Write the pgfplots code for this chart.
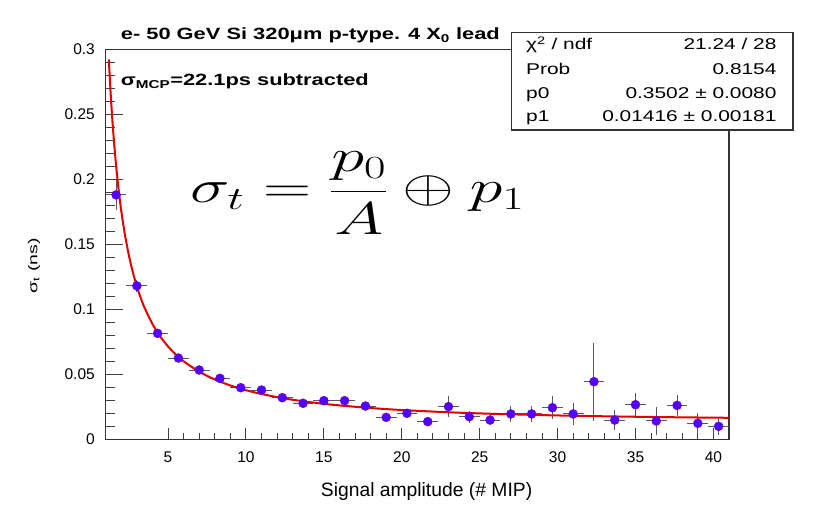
\documentclass[border=0pt]{standalone}
\usepackage{fix-cm}
\usepackage[no-math]{fontspec}
\setmainfont{Liberation Sans}
\newfontfamily\widefont[FakeStretch=1.34]{Liberation Sans}
\usepackage{graphicx}
\usepackage{pgfplots}
\pgfplotsset{compat=1.18}
\usepackage{pgfplotstable}
\definecolor{markerblue}{RGB}{85,0,245}
\definecolor{fitred}{RGB}{225,0,0}

\pgfplotstableread{
x y ex ey
1.667 0.188 0.667 0.0115
3.000 0.118 0.667 0.0045
4.333 0.0815 0.667 0.003
5.667 0.0625 0.667 0.002
7.000 0.0533 0.667 0.002
8.333 0.0469 0.667 0.002
9.667 0.0397 0.667 0.002
11.000 0.0379 0.667 0.002
12.333 0.0320 0.667 0.002
13.667 0.0277 0.667 0.002
15.000 0.0297 0.667 0.003
16.333 0.0297 0.667 0.003
17.667 0.0256 0.667 0.003
19.000 0.0169 0.667 0.003
20.333 0.0200 0.667 0.003
21.667 0.0136 0.667 0.002
23.000 0.0251 0.667 0.008
24.333 0.0174 0.667 0.0045
25.667 0.0148 0.667 0.004
27.000 0.0195 0.667 0.006
28.333 0.0195 0.667 0.006
29.667 0.0243 0.667 0.0087
31.000 0.0195 0.667 0.0083
32.333 0.0443 0.667 0.030
33.667 0.0148 0.667 0.0077
35.000 0.0266 0.667 0.0087
36.333 0.0141 0.667 0.0106
37.667 0.0261 0.667 0.0083
39.000 0.0123 0.667 0.0077
40.333 0.0100 0.667 0.0064
}\data

\pgfplotstableread{
x y
1.2 0.29217
1.3 0.26975
1.4 0.25054
1.5 0.23390
1.6 0.21933
1.7 0.20649
1.8 0.19507
1.9 0.18486
2.0 0.17567
2.1 0.16736
2.25 0.15629
2.5 0.14079
2.75 0.12813
3.0 0.11759
3.25 0.10868
3.5 0.10106
4.0 0.08869
4.5 0.07910
5.0 0.07146
5.5 0.06523
6.0 0.06006
7.0 0.05199
8.0 0.04601
9.0 0.04140
10.0 0.03777
11.0 0.03484
12.0 0.03244
13.0 0.03043
14.0 0.02874
15.0 0.02731
16.0 0.02607
18.0 0.02406
20.0 0.02252
23.0 0.02079
26.0 0.01954
30.0 0.01835
34.0 0.01751
38.0 0.01689
41.0 0.01654
}\fit

\begin{document}
\begin{tikzpicture}
\useasboundingbox (-105.7pt,-77.7pt) rectangle (716.3pt,439.3pt);
\pgfplotsset{rootaxis/.style={
  scale only axis, width=623.3pt, height=390pt,
  xmin=1, xmax=41, ymin=0, ymax=0.3,
  at={(0pt,0pt)}, anchor=south west,
  axis line style={line width=1.1pt, black!80},
  tick align=inside, xtick pos=left, ytick pos=left,
  every tick/.style={line width=1.0pt, black!75},
  minor tick style={line width=1.0pt, black!75},
  major tick style={line width=1.0pt, black!75},
  tick label style={font=\fontsize{15.5}{18}\selectfont, inner sep=0pt},
  /pgf/number format/assume math mode=true,
}}
\begin{axis}[rootaxis,
  xtick={5,10,15,20,25,30,35,40}, minor x tick num=4, ytick=\empty,
  major tick length=11pt, minor tick length=6pt,
  xticklabel shift=12.4pt]
\end{axis}
\begin{axis}[rootaxis,
  xtick=\empty,
  ytick={0,0.05,0.1,0.15,0.2,0.25,0.3},
  yticklabels={0,0.05,0.1,0.15,0.2,0.25,0.3},
  minor y tick num=4,
  major tick length=17.7pt, minor tick length=9pt,
  yticklabel shift=10.7pt]
\addplot[only marks, mark=*, mark size=4.5pt,
  mark options={draw=markerblue, fill=markerblue},
  error bars/.cd, x dir=both, x explicit, y dir=both, y explicit,
  error mark=none, error bar style={line width=1.0pt, black!65}]
  table[x=x, y=y, x error=ex, y error=ey]{\data};
\addplot[no marks, fitred, line width=2pt, smooth] table[x=x,y=y]{\fit};
\end{axis}
\begin{scope}[x=1pt, y=-1pt, shift={(-105.7pt,439.3pt)}]
\node[anchor=base west, inner sep=0pt] at (120.7,40)
  {\widefont\bfseries\fontsize{16.3}{19}\selectfont e- 50 GeV Si 320μm p-type. 4 X\textsubscript{0} lead};
\node[anchor=base west, inner sep=0pt] at (120.7,86)
  {\widefont\bfseries\fontsize{16.3}{19}\selectfont σ\textsubscript{MCP}=22.1ps subtracted};
\draw[line width=1.1pt, black!80, fill=white] (511.7,32.7) rectangle (793,130);
\begin{scope}[every node/.style={inner sep=0pt, font=\widefont\fontsize{15.6}{18}\selectfont}]
\node[anchor=base west] at (526,50) {χ\textsuperscript{2} / ndf};
\node[anchor=base east] at (776.7,50) {21.24 / 28};
\node[anchor=base west] at (526,74.3) {Prob};
\node[anchor=base east] at (776.7,74.3) {0.8154};
\node[anchor=base west] at (526,99) {p0};
\node[anchor=base east] at (776.7,99) {0.3502 ± 0.0080};
\node[anchor=base west] at (526,121.7) {p1};
\node[anchor=base east] at (776.7,121.7) {0.01416 ± 0.00181};
\end{scope}
\node[anchor=base west, inner sep=0pt] at (190,203)
  {\scalebox{1.45}[1]{\fontsize{46}{50}\selectfont$\displaystyle \sigma_t = \frac{p_0}{A} \oplus p_1$}};
\node[anchor=base west, inner sep=0pt] at (320.7,496)
  {\fontsize{19.3}{22}\selectfont Signal amplitude (\# MIP)};
\node[rotate=90, inner sep=0pt] at (34,266)
  {\scalebox{1.5}[1]{\fontsize{13}{15}\selectfont σ\textsubscript{t} (ns)}};
\end{scope}
\end{tikzpicture}
\end{document}
